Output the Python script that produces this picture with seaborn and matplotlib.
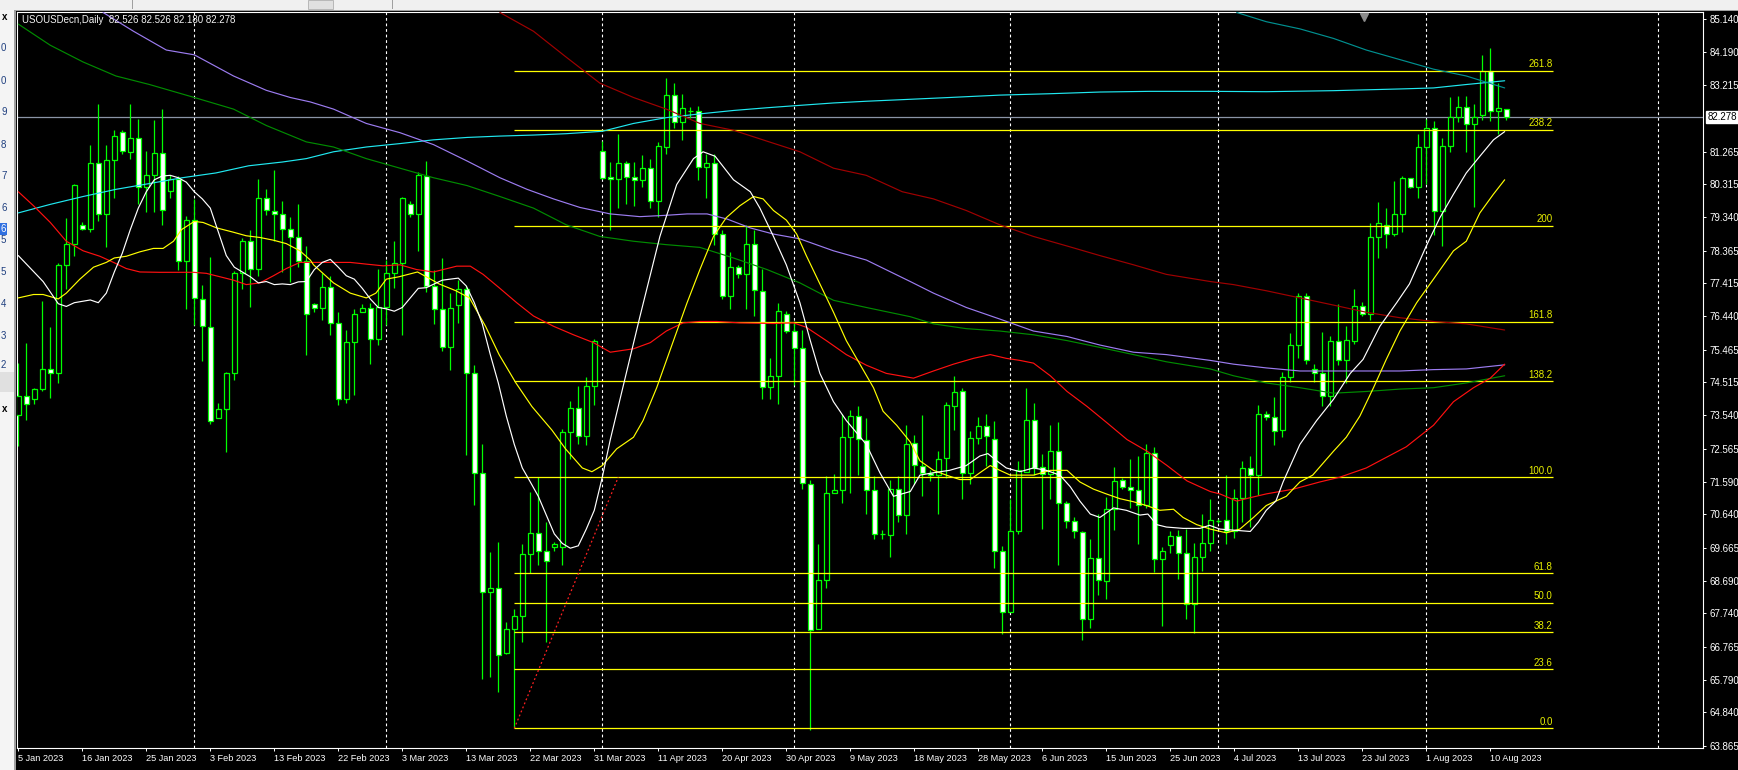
import matplotlib
matplotlib.use("Agg")
import matplotlib.pyplot as plt
import matplotlib.transforms as mtransforms
from matplotlib.patches import Rectangle
import numpy as np
import pandas as pd
import seaborn as sns

# daily OHLC, bar 0 = 5 Jan 2023 ... bar 186 = last bar
OPEN = [73.55, 74.10, 74.01, 74.30, 74.90, 74.79, 77.93, 78.57, 79.11, 79.01,
        80.92, 79.44, 81.02, 81.84, 81.26, 81.65, 80.24, 80.59, 81.21, 80.10,
        80.46, 78.06, 79.27, 76.96, 76.14, 73.47, 73.72, 74.77, 77.71, 78.64,
        77.84, 79.92, 79.54, 79.44, 79.00, 78.75, 78.06, 76.79, 76.68, 77.31,
        76.25, 74.01, 75.68, 76.56, 76.68, 75.78, 76.70, 77.70, 77.99, 79.74,
        79.44, 80.55, 77.32, 76.65, 75.53, 76.77, 77.23, 74.79, 71.86, 68.37,
        68.49, 66.57, 67.27, 67.65, 69.49, 70.10, 69.58, 69.68, 69.68, 73.04,
        73.77, 72.94, 74.41, 81.29, 80.52, 80.46, 80.93, 80.52, 80.44, 80.78,
        79.81, 81.40, 82.92, 82.12, 82.44, 82.44, 80.81, 80.92, 78.85, 77.05,
        77.90, 77.67, 78.57, 77.19, 74.38, 74.70, 76.52, 76.01, 75.51, 71.52,
        67.27, 68.71, 71.28, 71.34, 72.90, 73.52, 72.83, 71.35, 70.07, 70.04,
        71.38, 70.62, 72.72, 72.07, 71.86, 71.79, 72.28, 73.80, 74.24, 71.84,
        72.89, 73.22, 72.86, 69.58, 67.79, 70.14, 71.89, 73.41, 72.03, 71.82,
        72.49, 70.97, 70.45, 70.11, 67.58, 69.35, 68.69, 70.79, 71.66, 71.45,
        71.34, 70.92, 72.44, 69.33, 69.75, 70.00, 69.51, 68.02, 69.38, 69.79,
        70.45, 70.48, 70.14, 71.13, 72.00, 71.79, 73.59, 73.50, 73.11, 74.66,
        75.60, 77.05, 74.90, 74.79, 74.10, 75.71, 75.15, 75.73, 76.73, 76.50,
        78.75, 79.12, 78.85, 79.43, 80.48, 80.23, 81.40, 81.96, 79.54, 81.44,
        82.27, 82.58, 82.07, 82.34, 83.64, 82.44, 82.526]
HIGH = [75.07, 75.65, 74.35, 76.88, 76.12, 77.99, 79.33, 80.32, 79.20, 81.47,
        82.65, 81.47, 81.91, 81.89, 82.65, 82.23, 81.29, 82.18, 82.52, 80.57,
        80.55, 79.37, 79.88, 77.37, 78.18, 73.91, 74.82, 77.77, 78.74, 78.98,
        80.46, 80.16, 80.74, 79.81, 79.36, 79.74, 78.50, 76.84, 77.71, 77.63,
        76.56, 76.04, 76.66, 76.80, 76.84, 77.84, 78.09, 78.64, 79.95, 79.81,
        80.68, 80.99, 77.81, 78.15, 77.12, 77.50, 77.32, 75.02, 72.69, 69.54,
        69.82, 67.50, 67.88, 69.76, 71.31, 71.73, 70.41, 69.82, 73.14, 73.97,
        74.39, 74.67, 75.78, 81.57, 80.96, 81.79, 80.99, 80.96, 81.17, 81.06,
        81.54, 83.41, 83.27, 82.95, 82.58, 82.61, 81.20, 81.20, 78.98, 78.32,
        77.95, 79.12, 78.98, 77.84, 75.21, 76.84, 76.59, 76.29, 76.04, 71.66,
        69.76, 71.75, 71.82, 73.59, 73.69, 73.80, 73.45, 71.75, 70.18, 71.66,
        71.75, 73.27, 72.97, 73.55, 71.93, 72.49, 73.94, 74.70, 74.35, 73.08,
        73.50, 73.58, 73.37, 69.72, 71.10, 72.21, 74.35, 73.90, 72.42, 73.25,
        73.34, 71.03, 70.55, 70.14, 69.93, 70.65, 71.14, 72.03, 71.70, 72.25,
        72.35, 72.69, 72.62, 69.68, 70.14, 70.18, 70.21, 69.79, 70.65, 71.10,
        70.50, 71.80, 71.38, 72.21, 72.35, 73.83, 73.66, 74.08, 74.80, 75.94,
        77.12, 77.12, 75.04, 75.98, 75.87, 76.81, 76.15, 77.25, 76.87, 79.16,
        79.79, 79.61, 80.41, 80.55, 80.50, 81.79, 82.23, 82.15, 81.65, 82.85,
        82.90, 82.88, 82.67, 84.10, 84.31, 83.27, 82.526]
LOW = [72.63, 73.41, 73.86, 74.24, 74.05, 74.49, 77.25, 78.20, 78.96, 78.91,
       79.22, 78.46, 79.92, 81.20, 81.06, 79.72, 79.50, 79.50, 79.12, 79.92,
       77.80, 76.66, 76.18, 75.14, 73.30, 73.47, 72.46, 74.59, 77.25, 76.70,
       77.63, 79.40, 78.64, 77.73, 77.45, 77.88, 75.32, 76.56, 76.32, 75.90,
       73.83, 73.90, 74.15, 76.56, 75.04, 75.60, 76.18, 77.28, 75.90, 79.36,
       78.36, 77.14, 76.21, 75.43, 74.88, 76.26, 72.39, 70.92, 65.81, 65.89,
       65.43, 66.54, 64.37, 66.91, 68.92, 69.17, 66.89, 69.58, 69.17, 72.25,
       72.69, 72.67, 73.83, 80.46, 78.98, 79.61, 79.72, 79.68, 80.23, 79.61,
       79.36, 81.20, 81.96, 81.61, 82.26, 80.44, 79.91, 78.53, 76.95, 76.66,
       77.56, 76.66, 76.45, 74.01, 74.01, 73.87, 75.94, 74.42, 71.38, 64.33,
       67.27, 68.48, 71.28, 70.97, 71.28, 71.79, 70.65, 69.93, 69.93, 69.38,
       70.41, 70.07, 71.52, 71.17, 71.63, 70.65, 71.70, 73.11, 71.10, 71.52,
       72.69, 72.07, 69.07, 67.14, 67.79, 70.07, 71.89, 71.79, 70.21, 71.10,
       69.17, 70.23, 69.96, 66.96, 67.30, 68.27, 68.16, 70.18, 71.38, 70.83,
       69.76, 70.83, 68.96, 67.37, 69.51, 68.75, 67.58, 67.16, 68.99, 69.58,
       70.40, 69.76, 69.96, 70.41, 70.27, 71.20, 73.39, 72.67, 72.90, 74.52,
       75.21, 75.04, 74.52, 73.80, 73.80, 75.02, 74.49, 75.62, 76.45, 76.33,
       78.15, 78.43, 78.80, 78.91, 80.19, 79.92, 80.32, 78.83, 78.50, 81.26,
       82.12, 81.26, 79.63, 82.20, 82.16, 81.79, 82.180]
CLOSE = [74.12, 73.86, 74.31, 74.90, 74.79, 77.95, 78.57, 80.30, 79.00, 80.92,
         79.44, 81.03, 81.73, 81.29, 81.65, 80.24, 80.59, 81.22, 79.55, 80.45,
         78.06, 79.27, 76.99, 76.15, 73.38, 73.72, 74.77, 77.71, 78.64, 77.84,
         79.92, 79.55, 79.44, 79.00, 78.75, 78.06, 76.52, 76.68, 77.31, 76.25,
         74.01, 75.68, 76.50, 76.68, 75.78, 76.70, 77.70, 77.99, 79.91, 79.44,
         80.57, 77.32, 76.65, 75.53, 76.68, 77.23, 74.79, 71.86, 68.37, 68.49,
         66.51, 67.27, 67.65, 69.49, 70.10, 69.58, 69.27, 69.76, 73.04, 73.77,
         72.94, 74.41, 75.73, 80.50, 80.46, 80.93, 80.52, 80.44, 80.78, 79.81,
         81.43, 82.92, 82.12, 82.55, 82.44, 80.81, 80.92, 78.85, 77.05, 77.88,
         77.67, 78.57, 77.21, 74.38, 74.70, 76.61, 76.01, 75.51, 71.55, 67.26,
         68.71, 71.28, 71.34, 72.90, 73.52, 72.86, 71.35, 70.07, 70.07, 71.38,
         70.62, 72.69, 72.10, 71.86, 71.79, 72.25, 73.83, 74.21, 71.84, 72.89,
         73.22, 72.94, 69.58, 67.79, 70.14, 71.93, 73.41, 72.00, 71.82, 72.49,
         70.97, 70.45, 70.14, 67.58, 69.35, 68.71, 70.79, 71.63, 71.45, 71.34,
         70.92, 72.44, 69.33, 69.58, 70.00, 69.51, 68.02, 69.38, 69.79, 70.48,
         70.45, 70.14, 71.13, 72.00, 71.79, 73.59, 73.50, 73.08, 74.66, 75.60,
         77.05, 75.15, 74.79, 74.10, 75.71, 75.15, 75.76, 76.74, 76.50, 78.75,
         79.16, 78.85, 79.43, 80.49, 80.23, 81.40, 81.96, 79.54, 81.43, 82.27,
         82.58, 82.07, 82.29, 83.64, 82.44, 82.54, 82.278]

# moving averages as (bar, price)
MA_WHITE = [(0, 78.22), (3.1, 77.46), (5, 76.81), (6, 76.73), (7, 76.84), (9, 76.92), (10, 76.84),
            (11, 77.12), (12, 77.74), (13, 78.29), (14, 78.98), (15, 79.61), (16, 80.09), (17, 80.44),
            (18, 80.55), (19, 80.57), (20, 80.50), (21, 80.37), (22, 80.09), (23, 79.88), (24, 79.61),
            (25, 78.91), (26, 78.22), (27, 77.88), (28, 77.74), (29, 77.60), (30, 77.42), (31, 77.46),
            (32, 77.37), (33, 77.39), (34, 77.37), (35, 77.45), (36, 77.46), (37, 77.81), (38, 78.02),
            (39, 78.11), (40, 77.88), (41, 77.63), (42, 77.53), (43, 77.26), (44, 76.95), (45, 76.70),
            (46, 76.66), (47, 76.59), (48, 76.70), (49, 76.98), (50, 77.26), (51, 77.28), (52, 77.39),
            (53, 77.50), (54, 77.53), (55, 77.56), (56, 77.33), (57, 76.84), (58, 76.22), (59, 75.32),
            (60, 74.49), (61, 73.52), (62, 72.69), (63, 72.00), (64, 71.59), (65, 71.17), (66, 70.62),
            (67, 70.07), (68, 69.79), (69, 69.65), (70, 69.72), (71, 70.21), (72, 70.76), (73, 71.73),
            (74, 72.83), (77.7, 76.43), (80.2, 78.78), (82.3, 80.30), (84.4, 81.06), (85.6, 81.26),
            (87.1, 81.13), (89.4, 80.44), (91.5, 80.09), (92.7, 79.61), (94.4, 78.78), (96.0, 77.95),
            (97.7, 76.84), (99.0, 75.73), (100.2, 74.77), (101.9, 73.94), (103.5, 73.39), (106.0, 72.69),
            (107.7, 71.86), (109.4, 71.17), (111.5, 71.31), (112.7, 71.79), (114.4, 71.86), (116.4, 71.93),
            (118.5, 72.07), (120.2, 72.35), (121.2, 72.42), (122.3, 72.21), (123.5, 72.00), (125.2, 71.89),
            (126.9, 72.00), (128.5, 71.93), (130.2, 71.79), (131.5, 71.45), (132.7, 71.03), (134.0, 70.65),
            (135.2, 70.55), (136.9, 70.83), (138.5, 70.76), (140.2, 70.62), (141.2, 70.65), (142.3, 70.34),
            (143.5, 70.27), (145.6, 70.23), (147.7, 70.23), (148.9, 70.32), (150.2, 70.21), (154.0, 70.14),
            (155.0, 70.41), (156.0, 70.76), (157.2, 71.03), (158.1, 71.59), (160.2, 72.69), (162.3, 73.39),
            (164.4, 74.01), (166.5, 74.77), (168.1, 75.18), (170.2, 76.15), (172.3, 76.84), (173.9, 77.39),
            (176.0, 78.50), (177.7, 79.33), (179.4, 80.02), (181.0, 80.64), (182.7, 81.13), (184.4, 81.61),
            (185.8, 81.85)]
MA_YELLOW = [(0, 76.98), (1.9, 77.08), (3.1, 77.08), (5, 76.95), (6, 77.12), (7.7, 77.53), (9.4, 77.88),
             (11, 78.02), (12, 78.15), (13.5, 78.20), (15.2, 78.33), (16.9, 78.43), (18.1, 78.43),
             (19.4, 78.64), (20.4, 78.98), (22, 79.22), (23.1, 79.19), (24.8, 79.03), (26.8, 78.91),
             (28.5, 78.80), (30.2, 78.75), (31.9, 78.67), (33.5, 78.57), (35.2, 78.36), (36.5, 78.09),
             (36.9, 77.95), (39.4, 77.42), (41.5, 77.12), (43.5, 76.98), (44.7, 77.12), (46, 77.53),
             (47.6, 77.60), (49.9, 77.74), (51, 77.60), (52.6, 77.39), (54.7, 77.19), (56.4, 76.98),
             (58.4, 76.15), (60.1, 75.32), (62.2, 74.49), (64.2, 73.80), (66.7, 73.11), (68.4, 72.56),
             (70.5, 72.00), (71.7, 71.89), (73, 72.07), (74.8, 72.56), (76.9, 72.90), (78.1, 73.39),
             (79.8, 74.35), (81.9, 75.73), (83.6, 76.84), (85.2, 77.81), (86.9, 78.78), (88.5, 79.33),
             (90.2, 79.68), (91.9, 79.95), (93.1, 79.88), (94.4, 79.54), (96.0, 79.26), (97.3, 78.85),
             (98.5, 78.22), (100.2, 77.39), (101.9, 76.56), (103.5, 75.73), (105.2, 75.04), (106.9, 74.35),
             (108.1, 73.66), (109.8, 73.25), (111.5, 72.76), (112.7, 72.21), (114.4, 71.93), (116.0, 71.79),
             (117.7, 71.66), (119, 71.66), (120.2, 71.86), (121.5, 72.07), (122.7, 71.93), (124.0, 71.79),
             (126.9, 71.79), (129, 71.93), (131.1, 71.93), (132.7, 71.59), (134.4, 71.38), (136.0, 71.24),
             (137.7, 71.10), (139.4, 71.01), (141.0, 70.90), (142.7, 70.76), (144.4, 70.79), (145.6, 70.55),
             (147.3, 70.34), (149, 70.21), (151, 70.10), (152.7, 70.21), (154.4, 70.55), (156.0, 70.90),
             (158.5, 71.17), (160.2, 71.59), (161.8, 71.79), (164.4, 72.49), (166.0, 72.90), (167.7, 73.52),
             (169.4, 74.35), (171.0, 75.18), (172.7, 76.01), (174.8, 76.84), (176.9, 77.53), (179.4, 78.36),
             (181.0, 78.64), (182.7, 79.47), (184.4, 80.02), (185.8, 80.44)]
MA_RED = [(0, 80.09), (1.9, 79.68), (4, 79.19), (6, 78.64), (8.1, 78.36), (10.2, 78.20), (11.9, 78.02),
          (13.5, 77.84), (15.2, 77.74), (17.7, 77.73), (21.9, 77.73), (23.5, 77.70), (25.2, 77.60),
          (26.9, 77.50), (28.5, 77.37), (30.2, 77.42), (31.9, 77.63), (33.5, 77.84), (35.2, 78.02),
          (41.5, 78.02), (43.5, 77.97), (45.6, 77.92), (47.7, 77.95), (49.8, 77.81), (51.9, 77.74),
          (53.1, 77.81), (54.8, 77.91), (56.5, 77.91), (58.1, 77.67), (60.2, 77.26), (62.3, 76.84),
          (64.4, 76.45), (66.9, 76.15), (69.4, 75.90), (71.9, 75.67), (74, 75.39), (76.9, 75.49),
          (79, 75.67), (81.0, 76.01), (83.1, 76.25), (85.2, 76.29), (87.3, 76.29), (90.2, 76.25),
          (94.4, 76.23), (96.9, 76.25), (98.5, 76.12), (101.0, 75.73), (103.5, 75.32), (106, 75.01),
          (108.5, 74.77), (110.2, 74.70), (111.9, 74.63), (114.4, 74.84), (116.9, 75.04), (119.4, 75.21),
          (121.5, 75.32), (123.5, 75.21), (125.2, 75.15), (126.9, 75.07), (129, 74.70), (131.1, 74.24),
          (133.6, 73.80), (136.1, 73.32), (138.6, 72.83), (141.1, 72.49), (143.6, 72.07), (146.1, 71.62),
          (149, 71.31), (150.2, 71.24), (152.3, 71.03), (154.0, 71.13), (156.0, 71.24), (159.4, 71.38),
          (162.7, 71.59), (165.2, 71.73), (168.5, 72.00), (171.0, 72.31), (173.5, 72.62), (176.9, 73.25),
          (179.4, 73.94), (181.9, 74.35), (184.0, 74.63), (185.8, 75.04)]
MA_PURPLE = [(10.6, 85.34), (14.4, 84.79), (18.5, 84.24), (22, 84.10), (26.9, 83.48), (31, 83.06),
             (34, 82.85), (36.5, 82.72), (39.4, 82.51), (43.5, 82.09), (47.7, 81.82), (51.9, 81.47),
             (56.1, 80.99), (60.2, 80.50), (63.6, 80.16), (66.9, 79.88), (70.2, 79.63), (74, 79.44),
             (77.7, 79.36), (81.0, 79.40), (83.6, 79.44), (86.1, 79.44), (88.6, 79.29), (91.5, 79.03),
             (94.4, 78.85), (97.7, 78.71), (101.9, 78.36), (106, 78.09), (111.5, 77.46), (114.4, 77.12),
             (118.5, 76.70), (122.7, 76.36), (126.9, 76.01), (131.1, 75.85), (135.2, 75.60), (139.4, 75.39),
             (143.5, 75.32), (149, 75.15), (151.9, 75.04), (156.0, 74.93), (160.2, 74.84), (172.7, 74.84),
             (176.9, 74.88), (181.0, 74.90), (185.8, 75.02)]
MA_GREEN = [(0, 85.00), (4, 84.38), (8.1, 83.89), (12.2, 83.48), (16.4, 83.23), (22, 82.85), (26.9, 82.51),
            (31, 82.03), (36, 81.55), (39.4, 81.40), (43.5, 81.06), (47.7, 80.78), (51.9, 80.50),
            (56.1, 80.27), (60.2, 79.95), (64.4, 79.61), (68.5, 79.12), (72.7, 78.78), (76.9, 78.64),
            (81.0, 78.54), (85.2, 78.46), (89.4, 78.15), (93.6, 77.81), (97.7, 77.42), (101.9, 76.91),
            (106, 76.70), (111.5, 76.43), (114.4, 76.22), (118.5, 76.08), (122.7, 76.01), (126.9, 75.90),
            (131.1, 75.73), (135.2, 75.53), (139.4, 75.32), (143.5, 75.11), (149, 74.90), (151.9, 74.70),
            (156.0, 74.49), (160.2, 74.35), (164.4, 74.19), (168.5, 74.24), (172.7, 74.31), (176.9, 74.35),
            (181.0, 74.49), (185.8, 74.70)]
MA_CYAN = [(0, 79.47), (4, 79.72), (8.1, 79.95), (12.2, 80.16), (16.4, 80.33), (20.5, 80.50), (24.7, 80.64),
           (28.8, 80.85), (33, 80.96), (36, 81.06), (39.4, 81.26), (43.5, 81.40), (47.7, 81.50),
           (51.9, 81.61), (56.1, 81.68), (60.2, 81.72), (64.4, 81.75), (68.5, 81.79), (73, 81.86),
           (76.9, 82.09), (81.0, 82.26), (85.2, 82.37), (89.4, 82.47), (93.6, 82.55), (97.7, 82.62),
           (101.9, 82.69), (106, 82.74), (110.8, 82.79), (116.4, 82.85), (122.7, 82.92), (128.9, 82.96),
           (135.2, 83.01), (141.4, 83.03), (149, 83.03), (156.0, 83.02), (164.4, 83.05), (172.7, 83.10),
           (176.9, 83.13), (181.0, 83.23), (185.8, 83.34)]
MA_DARKRED = [(60.2, 85.34), (64.4, 84.79), (68.5, 84.03), (72.7, 83.27), (76.9, 82.85), (81.0, 82.51),
              (85.2, 82.09), (89.4, 81.89), (93.6, 81.57), (97.7, 81.26), (101.9, 80.78), (106, 80.57),
              (110.5, 80.09), (114.4, 79.88), (118.5, 79.54), (122.7, 79.12), (126.9, 78.78), (131.1, 78.50),
              (135.2, 78.22), (139.4, 77.95), (143.5, 77.67), (149, 77.46), (151.9, 77.37), (156.0, 77.19),
              (160.2, 76.98), (164.4, 76.77), (168.5, 76.56), (172.7, 76.40), (176.9, 76.29), (181.0, 76.22),
              (185.8, 76.04)]
MA_TEAL = [(152.3, 85.34), (156.0, 85.07), (160.2, 84.86), (164.4, 84.58), (168.5, 84.24), (172.7, 83.96),
           (176.9, 83.68), (181.0, 83.48), (185.8, 83.13)]

# fibonacci object: anchors (bar, price) and levels
FIB_ANCHOR_BARS = [62, 75]
FIB_ANCHOR_PRICES = [64.37, 71.73]
FIB_LEVELS = [0.0, 23.6, 38.2, 50.0, 61.8, 100.0, 138.2, 161.8, 200.0, 238.2, 261.8]
FIB_LABELS = ["0.0", "23.6", "38.2", "50.0", "61.8", "100.0", "138.2", "161.8", "200", "238.2", "261.8"]
FIB_END_BAR = 191.8

MONTH_START_BARS = [22, 46, 73, 97, 124, 150, 176, 205]
DATE_LABELS = ["5 Jan 2023", "16 Jan 2023", "25 Jan 2023", "3 Feb 2023", "13 Feb 2023", "22 Feb 2023",
               "3 Mar 2023", "13 Mar 2023", "22 Mar 2023", "31 Mar 2023", "11 Apr 2023", "20 Apr 2023",
               "30 Apr 2023", "9 May 2023", "18 May 2023", "28 May 2023", "6 Jun 2023", "15 Jun 2023",
               "25 Jun 2023", "4 Jul 2023", "13 Jul 2023", "23 Jul 2023", "1 Aug 2023", "10 Aug 2023"]
DATE_STEP = 8
PRICE_TICKS = [85.140, 84.190, 83.215, 81.265, 80.315, 79.340, 78.365, 77.415, 76.440, 75.465, 74.515,
               73.540, 72.565, 71.590, 70.640, 69.665, 68.690, 67.740, 66.765, 65.790, 64.840, 63.865]
LAST_PRICE = 82.278
TITLE = "USOUSDecn,Daily  82.526 82.526 82.180 82.278"

sns.set_theme(style="dark", rc={"axes.facecolor": "black", "figure.facecolor": "black"})
plt.rcParams["font.family"] = ["Liberation Sans", "DejaVu Sans"]

W, H = 1738, 770
fig = plt.figure(figsize=(W / 100, H / 100), dpi=100, facecolor="black")
ax_l, ax_r, ax_t, ax_b = 16.5, 1703, 12, 748
ax = fig.add_axes([ax_l / W, (H - ax_b) / H, (ax_r - ax_l) / W, (ax_b - ax_t) / H])
ax.set_facecolor("black")

# window chrome around the chart
fig.add_artist(Rectangle((0, 1 - 10 / H), 1, 10 / H, transform=fig.transFigure,
                         facecolor="#F0F0F0", edgecolor="none", zorder=0))
fig.add_artist(Rectangle((0, 1 - 11 / H), 1, 1 / H, transform=fig.transFigure,
                         facecolor="#A0A0A0", edgecolor="none", zorder=0))
for sx in [132, 392]:
    fig.add_artist(Rectangle((sx / W, 1 - 9 / H), 1 / W, 9 / H, transform=fig.transFigure,
                             facecolor="#A0A0A0", edgecolor="none", zorder=1))
fig.add_artist(Rectangle((308 / W, 1 - 9 / H), 25 / W, 9 / H, transform=fig.transFigure,
                         facecolor="#E0E0E0", edgecolor="#B0B0B0", lw=0.6, zorder=1))
fig.add_artist(Rectangle((0, 0), 14 / W, 1 - 10 / H, transform=fig.transFigure,
                         facecolor="#F4F4F4", edgecolor="none", zorder=0))
fig.add_artist(Rectangle((14 / W, 0), 2 / W, 1 - 10 / H, transform=fig.transFigure,
                         facecolor="#A0A0A0", edgecolor="none", zorder=0))
fig.add_artist(Rectangle((0, 1 - 392 / H), 14 / W, 20 / H, transform=fig.transFigure,
                         facecolor="#E0E0E0", edgecolor="none", zorder=0))
side_digits = ["0", "0", "9", "8", "7", "6", "5", "5", "4", "3", "2"]
side_y = [48, 81, 112, 145, 176, 208, 240, 272, 304, 336, 365]
for d, yy in zip(side_digits, side_y):
    fig.text(1 / W, 1 - yy / H, d, fontsize=7, color="#1F3F7F", va="center", ha="left")
fig.text(0.5 / W, 1 - 229 / H, "6", fontsize=7, color="white", va="center", ha="left",
         bbox=dict(boxstyle="square,pad=0.1", facecolor="#3070E0", edgecolor="none"))
for yy in [17, 409]:
    fig.text(2 / W, 1 - yy / H, "x", fontsize=7, fontweight="bold", color="black", va="center", ha="left")

# month separators
for b in MONTH_START_BARS:
    ax.axvline(b, color="white", lw=0.8, ls=(0, (2.5, 2.5)), zorder=1)

# last price line
ax.axhline(LAST_PRICE, color="#8A94A6", lw=0.9, zorder=1.5)

# candles
bars = pd.DataFrame({"bar": np.arange(len(OPEN)), "open": OPEN, "high": HIGH, "low": LOW, "close": CLOSE})
bars["bull"] = bars["close"] >= bars["open"]
ax.vlines(bars["bar"], bars["low"], bars["high"], color="#00FF00", lw=0.9, zorder=2)
body_lo = np.minimum(bars["open"], bars["close"])
body_h = np.abs(bars["close"] - bars["open"])
ax.bar(bars["bar"], body_h, bottom=body_lo, width=0.6,
       color=np.where(bars["bull"], "black", "white"), edgecolor="#00FF00", lw=0.9, zorder=3)

# fibonacci levels
f_lo, f_hi = FIB_ANCHOR_PRICES
for lvl, lab in zip(FIB_LEVELS, FIB_LABELS):
    price = f_lo + lvl / 100.0 * (f_hi - f_lo)
    ax.hlines(price, FIB_ANCHOR_BARS[0], FIB_END_BAR, color="#FFFF00", lw=0.9, zorder=4)
    ax.text(FIB_END_BAR, price + 0.045, lab, color="#E8F000", fontsize=7, ha="right", va="bottom", zorder=6)
ax.plot(FIB_ANCHOR_BARS, FIB_ANCHOR_PRICES, color="#FF2020", lw=0.9, ls=(0, (1.5, 2)), zorder=4)

# moving averages
ma_styles = [
    (MA_CYAN, "#20E8F0"),
    (MA_TEAL, "#009090"),
    (MA_DARKRED, "#A00000"),
    (MA_GREEN, "#008C00"),
    (MA_PURPLE, "#9C7CF0"),
    (MA_RED, "#FF1010"),
    (MA_YELLOW, "#FFFF00"),
    (MA_WHITE, "#FFFFFF"),
]
for pts, col in ma_styles:
    df = pd.DataFrame(pts, columns=["bar", "price"])
    sns.lineplot(data=df, x="bar", y="price", ax=ax, color=col, lw=0.85,
                 estimator=None, sort=False, zorder=5)

# chart shift marker
ax.plot([168.2], [85.22], marker="v", ms=6, color="#8C8C8C", clip_on=False, zorder=7)

ax.set_xlim(-0.225, 210.59)
ax.set_ylim(63.798, 85.354)
ax.set_xlabel("")
ax.set_ylabel("")
ax.grid(False)

ax.yaxis.tick_right()
ax.set_yticks(PRICE_TICKS, labels=[f"{v:.3f}" for v in PRICE_TICKS])
date_bars = np.arange(len(DATE_LABELS)) * DATE_STEP
ax.set_xticks(date_bars, labels=DATE_LABELS)
for lbl in ax.get_xticklabels():
    lbl.set_horizontalalignment("left")
ax.tick_params(axis="y", colors="white", direction="out", length=2.5, width=0.7, pad=2.5,
               labelsize=7, right=True, left=False)
ax.tick_params(axis="x", colors="white", direction="out", length=2.5, width=0.7, pad=2,
               labelsize=6.6, bottom=True)
for sp in ax.spines.values():
    sp.set_color("white")
    sp.set_linewidth(0.8)
    sp.set_visible(True)

trans = mtransforms.blended_transform_factory(ax.transAxes, ax.transData)
ax.text(1.0025, LAST_PRICE, f"{LAST_PRICE:.3f}", transform=trans, fontsize=7, color="black",
        ha="left", va="center", clip_on=False, zorder=8,
        bbox=dict(boxstyle="square,pad=0.15", facecolor="white", edgecolor="white"))

ax.text(0.0033, 0.9886, TITLE, transform=ax.transAxes, fontsize=7, color="#F2F2F2",
        ha="left", va="center", zorder=8)

fig.savefig("out.png", dpi=100, facecolor="black")
